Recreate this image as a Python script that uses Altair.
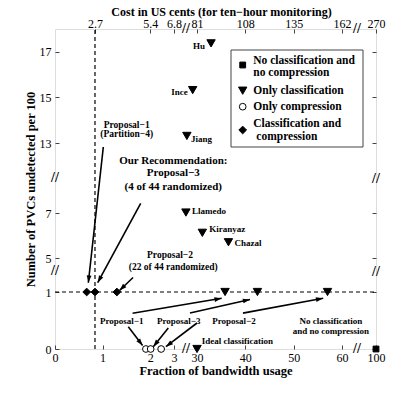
import altair as alt
import pandas as pd
import numpy as np

FONT = "Liberation Serif, Times New Roman, serif"

# ---------------- broken-axis scale definition (piecewise linear) ----------------
X_DOMAIN = [0, 2.5, 26, 60, 100]
X_RANGE = [0, 119, 122.7, 287, 321]
Y_DOMAIN = [0, 1, 5, 7, 13, 18]
Y_RANGE = [320, 263, 229, 184, 114, 0]
W, H = 321, 320

# ---------------- data ----------------
categories = ["No classification and|no compression", "Only classification",
              "Only compression", "Classification and| compression"]
shapes = ["square", "triangle-down", "circle", "diamond"]
fills = ["black", "black", "white", "black"]
sizes = [34, 70, 45, 60]

none_x = [100]
none_y = [0]
cls_names = ["Hu", "Ince", "Jiang", "Llamedo", "Kiranyaz", "Chazal"]
cls_x = [32.9, 29.1, 27.9, 27.7, 31.1, 36.5]
cls_y = [17.37, 15.32, 13.31, 7.04, 6.12, 5.70]
prop_cls_x = [35.8, 42.5, 57.0]      # Proposal-1, -3, -2 (classification only)
prop_cls_y = [1, 1, 1]
ideal_x = [30]
ideal_y = [0]
comp_x = [1.91, 2.01, 2.23]          # Proposal-1, -3, -2 (compression only)
comp_y = [0, 0, 0]
both_x = [0.666, 0.84, 1.30]         # Proposal-1, -3, -2 (classification + compression)
both_y = [1, 1, 1]

x_ticks = [0, 1, 2, 2.5, 30, 40, 50, 60, 100]
y_ticks = [0, 1, 5, 7, 13, 15, 17]
cost_pos = [0.84, 2, 2.5, 30, 40, 50, 60, 100]
cost_labels = ["2.7", "5.4", "6.8", "81", "108", "135", "162", "270"]

ref_y = 1
ref_x = 0.84

# name label offsets: (dx, dy, align)
name_style = [(-6, 3, "right"), (-5, 2, "right"), (4, 3, "left"),
              (6, -2, "left"), (7, -4, "left"), (6, 1, "left")]

arrow_x1 = [1.015, 1.80, 1.64, 1.63, 28.54, 39.5, 1.54, 2.38, 30.0]
arrow_y1 = [12.66, 7.83, 2.71, 0.626, 0.63, 0.63, 0.39, 0.37, 0.456]
arrow_x2 = [0.70, 0.897, 1.355, 35.1, 40.97, 56.1, 1.84, 2.065, 2.33]
arrow_y2 = [2.09, 2.09, 1.18, 0.889, 0.87, 0.89, 0.06, 0.04, 0.04]

ann_text = ["Proposal\u22121", "(Partition\u22124)",
            "Our Recommendation:", "Proposal\u22123", "(4 of 44 randomized)",
            "Proposal\u22122", "(22 of 44 randomized)",
            "Proposal\u22121", "Proposal\u22123", "Proposal\u22122",
            "Ideal classification", "No classification", "and no compression"]
ann_x = [1.506, 1.506, 2.485, 2.485, 2.485, 2.416, 2.485,
         1.401, 26.2, 37.65, 38.37, 57.7, 57.7]
ann_y = [13.79, 13.39, 11.46, 10.43, 9.23, 5.13, 3.98,
         0.491, 0.491, 0.491, 0.146, 0.496, 0.321]
ann_size = [9.5, 9.5, 11, 11, 11, 9.5, 9.5, 9, 9, 9, 9, 9, 9]

break_x = [0, 0, 100, 100, 27.7, 77.6, 27.7, 77.6]
break_y = [3.47, 10.0, 3.4, 9.9, 0, 0, 18, 18]

# legend layout (pixels inside the plot area)
LEG_BOX = (176, 21, 308, 118)
LEG_SYM_X = 187.7
LEG_SYM_Y = [36, 61.7, 77.7, 101]
LEG_TXT_X = 198.3
LEG_LINE_Y = [[31.7, 44], [61.7], [77.7], [94.5, 108]]

# ---------------- tables ----------------
pts = pd.DataFrame({
    "x": none_x + cls_x + prop_cls_x + ideal_x + comp_x + both_x,
    "y": none_y + cls_y + prop_cls_y + ideal_y + comp_y + both_y,
    "k": [0] * len(none_x) + [1] * (len(cls_x) + len(prop_cls_x) + len(ideal_x))
         + [2] * len(comp_x) + [3] * len(both_x),
})
pts["cat"] = [categories[k] for k in pts["k"]]
pts["shape"] = [shapes[k] for k in pts["k"]]
pts["fill"] = [fills[k] for k in pts["k"]]
pts["sz"] = [sizes[k] for k in pts["k"]]

xs = alt.Scale(domain=X_DOMAIN, range=X_RANGE, nice=False, zero=False)
ys = alt.Scale(domain=Y_DOMAIN, range=Y_RANGE, nice=False, zero=False)


def X(f, axis=None):
    return alt.X(f, type="quantitative", scale=xs, axis=axis)


def Y(f, axis=None):
    return alt.Y(f, type="quantitative", scale=ys, axis=axis)


tick_axis = dict(domain=False, grid=False, tickSize=4, offset=-4, tickColor="#444",
                 tickWidth=1)
label_axis = dict(labelFont=FONT, labelFontSize=12, labelColor="black",
                  labelOverlap=False, labelFlush=False, titleFont=FONT,
                  titleFontSize=12.5, titleFontWeight="bold", titleColor="black")

bottom_axis = alt.Axis(orient="bottom", values=x_ticks, labelPadding=3,
                       title="Fraction of bandwidth usage", titlePadding=1,
                       **tick_axis, **label_axis)
left_axis = alt.Axis(orient="left", values=y_ticks, labelPadding=4,
                     title="Number of PVCs undetected per 100", titlePadding=2,
                     **tick_axis, **label_axis)
cost_expr = " : ".join(f"datum.value == {p} ? '{l}'" for p, l in zip(cost_pos, cost_labels)) + " : ''"
top_axis = alt.Axis(orient="top", values=cost_pos, labelExpr=cost_expr, labelPadding=2,
                    labelBaseline="alphabetic",
                    title="Cost in US cents (for ten\u2212hour monitoring)",
                    titleY=-17.5, titleX=166, titleBaseline="alphabetic", titleAlign="center",
                    titleAnchor="middle",
                    **tick_axis, **{**label_axis, "titleFontSize": 12})
right_axis = alt.Axis(orient="right", values=y_ticks, labels=False, title=None, **tick_axis)

# dashed reference lines (carry the top / right axes)
hline = alt.Chart(pd.DataFrame({"x": [0], "x2": [100], "y": [ref_y]})).mark_rule(
    color="black", strokeWidth=1.2, strokeDash=[4, 3]).encode(
    x=X("x", top_axis), x2="x2:Q", y=Y("y", right_axis))
vline = alt.Chart(pd.DataFrame({"x": [ref_x], "y": [0], "y2": [18]})).mark_rule(
    color="black", strokeWidth=1.2, strokeDash=[4, 3]).encode(
    x=X("x"), y=Y("y"), y2="y2:Q")

points = alt.Chart(pts).mark_point(opacity=1, stroke="black", strokeWidth=1).encode(
    x=X("x", bottom_axis), y=Y("y", left_axis),
    shape=alt.Shape("shape:N", scale=None),
    fill=alt.Fill("fill:N", scale=None),
    size=alt.Size("sz:Q", scale=None),
)

arr = pd.DataFrame({"x": arrow_x1, "y": arrow_y1, "x2": arrow_x2, "y2": arrow_y2})
dxp = np.interp(arr["x2"], X_DOMAIN, X_RANGE) - np.interp(arr["x"], X_DOMAIN, X_RANGE)
dyp = np.interp(arr["y2"], Y_DOMAIN, Y_RANGE) - np.interp(arr["y"], Y_DOMAIN, Y_RANGE)
arr["ang"] = (np.degrees(np.arctan2(dxp, -dyp)) + 360) % 360

arrows = alt.Chart(arr).mark_rule(color="black", strokeWidth=1.6).encode(
    x=X("x"), y=Y("y"), x2="x2:Q", y2="y2:Q")
heads = alt.Chart(arr).mark_point(shape="M0,0L0.6,1.8L-0.6,1.8Z", filled=True, color="black",
                                  opacity=1, size=64).encode(
    x=X("x2"), y=Y("y2"), angle=alt.Angle("ang:Q", scale=None))

ann = pd.DataFrame({"x": ann_x, "y": ann_y, "t": ann_text, "s": ann_size})
annotations = alt.Chart(ann).mark_text(font=FONT, fontWeight="bold", align="center",
                                       baseline="middle", color="black").encode(
    x=X("x"), y=Y("y"), text="t:N", size=alt.Size("s:Q", scale=None))

name_layers = []
for n, xv, yv, (ddx, ddy, al) in zip(cls_names, cls_x, cls_y, name_style):
    name_layers.append(
        alt.Chart(pd.DataFrame({"x": [xv], "y": [yv], "t": [n]})).mark_text(
            font=FONT, fontWeight="bold", fontSize=9, align=al, baseline="middle",
            dx=ddx, dy=ddy, color="black").encode(x=X("x"), y=Y("y"), text="t:N"))

breaks = alt.Chart(pd.DataFrame({"x": break_x, "y": break_y, "t": ["//"] * len(break_x)})).mark_text(
    font=FONT, fontWeight="bold", fontSize=14, align="center", baseline="middle", color="black").encode(
    x=X("x"), y=Y("y"), text="t:N")

# ---------------- legend (drawn by hand inside the plot) ----------------
leg_box = alt.Chart(pd.DataFrame({"a": [0]})).mark_rect(
    fill="white", stroke="#444", strokeWidth=1).encode(
    x=alt.value(LEG_BOX[0]), x2=alt.value(LEG_BOX[2]),
    y=alt.value(LEG_BOX[1]), y2=alt.value(LEG_BOX[3]))
leg_sym = alt.Chart(pd.DataFrame({"px": [LEG_SYM_X] * 4, "py": LEG_SYM_Y, "shape": shapes,
                                  "fill": fills, "sz": sizes})).mark_point(
    opacity=1, stroke="black", strokeWidth=1).encode(
    x=alt.X("px:Q", scale=None), y=alt.Y("py:Q", scale=None),
    shape=alt.Shape("shape:N", scale=None), fill=alt.Fill("fill:N", scale=None),
    size=alt.Size("sz:Q", scale=None))
leg_rows = []
for cat, ys_ in zip(categories, LEG_LINE_Y):
    for line, yy in zip(cat.split("|"), ys_):
        leg_rows.append({"px": LEG_TXT_X + (3 if line.startswith(" ") else 0), "py": yy,
                         "t": line.strip()})
leg_txt = alt.Chart(pd.DataFrame(leg_rows)).mark_text(
    font=FONT, fontWeight="bold", fontSize=11.5, align="left", baseline="middle",
    color="black").encode(x=alt.X("px:Q", scale=None), y=alt.Y("py:Q", scale=None), text="t:N")

chart = alt.layer(hline, vline, arrows, heads, annotations, *name_layers, breaks, points,
                  leg_box, leg_sym, leg_txt).resolve_scale(
    x="independent", y="independent").properties(
    width=W, height=H, autosize=alt.AutoSizeParams(type="none"),
    padding={"left": 47, "top": 21, "right": 31, "bottom": 36}).configure_view(
    stroke="#444", strokeWidth=1).configure(background="white")

chart.save("out.html", embed_options={"renderer": "svg", "actions": False})
